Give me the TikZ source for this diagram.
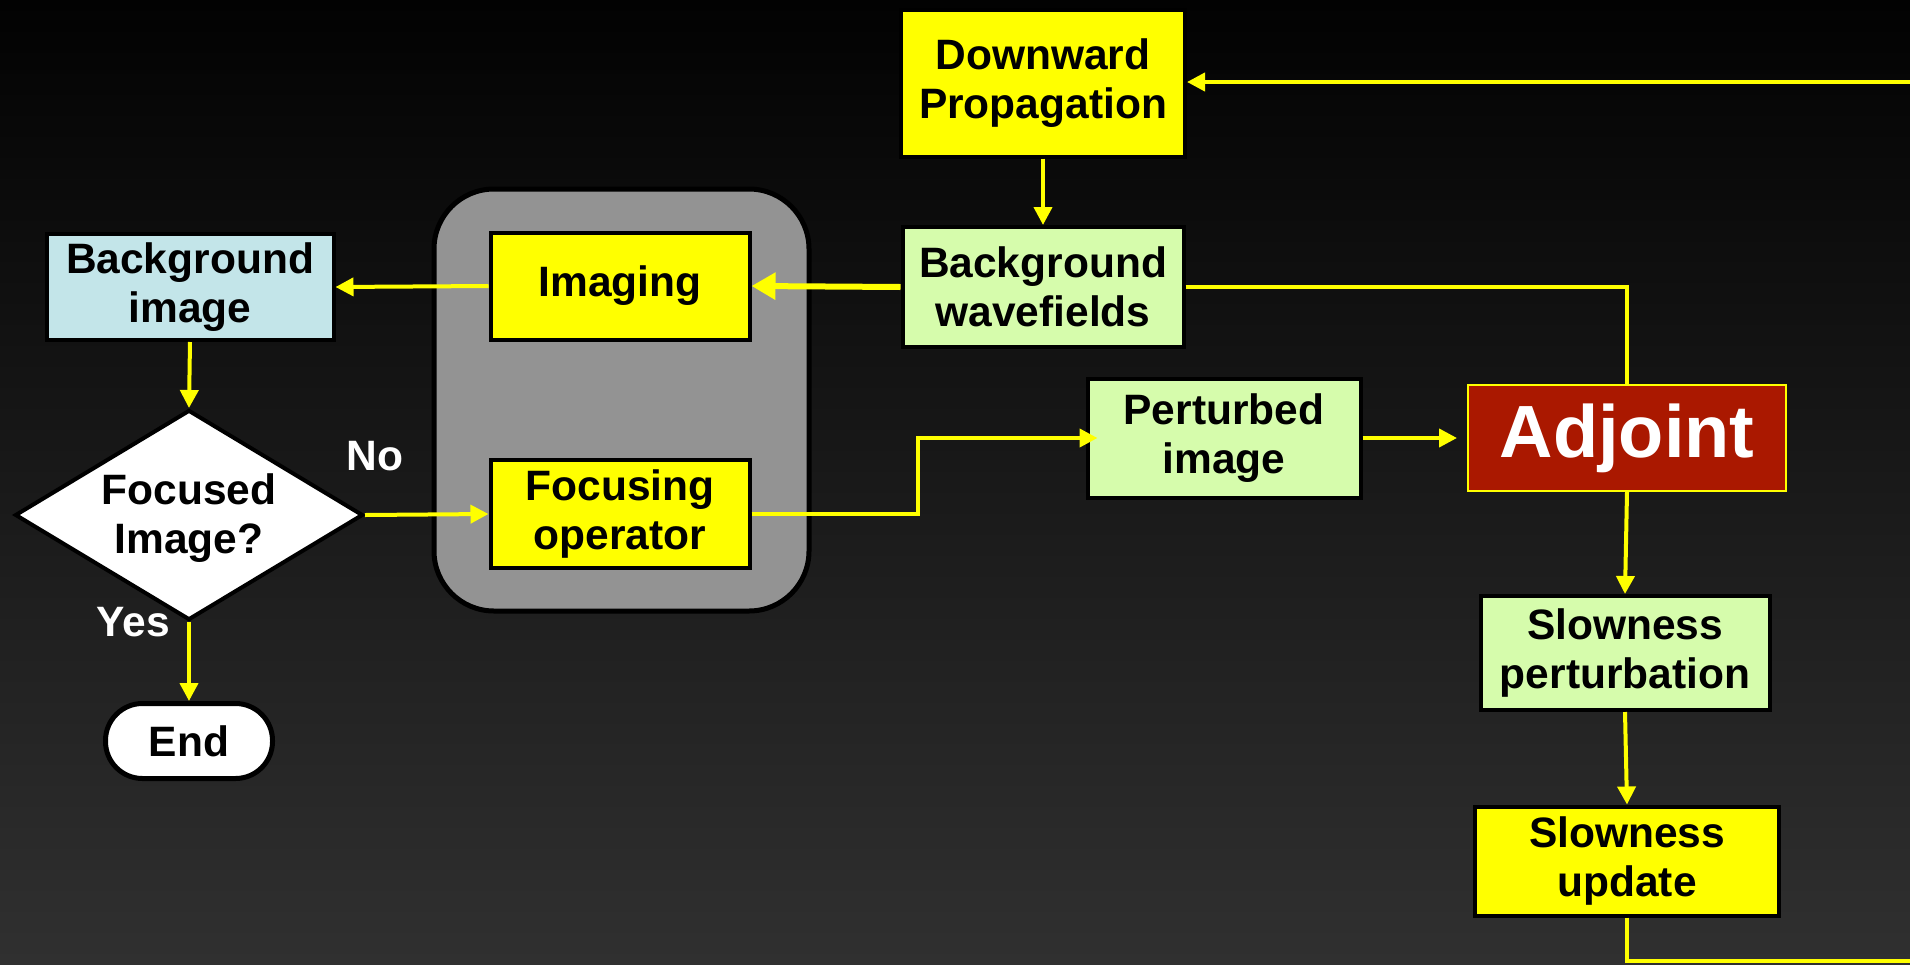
\documentclass[tikz,border=0pt]{standalone}
\usepackage{fontspec}
\setmainfont{Liberation Sans}
\usetikzlibrary{arrows.meta,shapes.geometric}
\definecolor{bgtop}{RGB}{2,2,2}
\definecolor{bgbot}{RGB}{48,48,48}
\definecolor{yel}{RGB}{255,255,0}
\definecolor{lgreen}{RGB}{214,252,172}
\definecolor{lblue}{RGB}{195,229,233}
\definecolor{grayc}{RGB}{147,147,147}
\definecolor{adjred}{RGB}{170,24,0}
\begin{document}
\begin{tikzpicture}[x=1pt,y=-1pt,
  box/.style={draw=black, line width=4pt, inner sep=0pt, align=center, font=\fontsize{42.5}{49}\selectfont\bfseries},
  conn/.style={draw=yel, line width=4pt, -{Triangle[width=18pt,length=18pt]}},
  bigconn/.style={draw=yel, line width=6pt, -{Triangle[width=26pt,length=24pt]}},
  plainline/.style={draw=yel, line width=4pt},
  lbl/.style={text=white, font=\fontsize{42.5}{49}\selectfont\bfseries}
]
\useasboundingbox (0,0) rectangle (1910,964);
\shade[top color=bgtop, bottom color=bgbot] (0,0) rectangle (1910,964);

% group container
\node[draw=black, fill=grayc, line width=5pt, rounded corners=60pt, minimum width=375pt, minimum height=422pt] (grp) at (621.5,400) {};

% nodes
\node[box, fill=yel, minimum width=284pt, minimum height=147pt] (down) at (1043,83) {Downward\\Propagation};
\node[box, fill=lgreen, minimum width=281pt, minimum height=120pt] (bwf) at (1043,287) {Background\\wavefields};
\node[box, fill=yel, minimum width=259pt, minimum height=107pt] (imaging) at (620,286) {Imaging};
\node[box, fill=yel, minimum width=259pt, minimum height=108pt] (focus) at (620,514) {Focusing\\operator};
\node[box, fill=lblue, minimum width=287pt, minimum height=106pt] (bimg) at (190,287) {Background\\image};
\node[draw=black, fill=white, line width=4pt, diamond, inner sep=0pt, minimum width=348pt, minimum height=210pt] (dia) at (189,515) {};
\node[lbl, text=black, align=center] (diatext) at (189,518) {Focused\\Image?};
\node[box, fill=white, rounded corners=37pt, line width=5pt, minimum width=167pt, minimum height=75pt] (endn) at (189,741) {End};
\node[box, fill=lgreen, minimum width=273pt, minimum height=119pt] (pert) at (1224,438) {Perturbed\\image};
\node[draw=yel, fill=adjred, line width=2pt, inner sep=0pt, minimum width=318pt, minimum height=106pt, text=white, font=\fontsize{74}{80}\selectfont\bfseries] (adj) at (1627,438) {Adjoint};
\node[box, fill=lgreen, minimum width=289pt, minimum height=114pt] (sp) at (1625,653) {Slowness\\perturbation};
\node[box, fill=yel, minimum width=304pt, minimum height=109pt] (su) at (1627,861) {Slowness\\update};

% labels
\node[lbl] (nolbl) at (375,456) {No};
\node[lbl] (yeslbl) at (133,622) {Yes};

% helper coordinates
\coordinate (loopB) at (1930,961);
\coordinate (loopT) at (1930,82);
\coordinate (bend) at (918,438);

% connectors
\draw[conn] (down.south) -- (bwf.north);
\draw[bigconn] (bwf.west) -- (imaging.east);
\draw[conn] (imaging.west) -- (bimg.east);
\draw[conn] (bimg.south) -- (dia.north);
\draw[conn] (dia.east) -- (focus.west);
\draw[conn] (dia.south) -- (endn.north);
\draw[conn, shorten >=-12pt] (focus.east) -| (bend) -- (pert.west);
\draw[conn, shorten >=10pt] (pert.east) -- (adj.west);
\draw[plainline] (bwf.east) -| (adj.north);
\draw[conn] (adj.south) -- (sp.north);
\draw[conn] (sp.south) -- (su.north);
\draw[plainline] (su.south) |- (loopB) -- (loopT);
\draw[conn] (loopT) -- (down.east |- loopT);
\end{tikzpicture}
\end{document}
